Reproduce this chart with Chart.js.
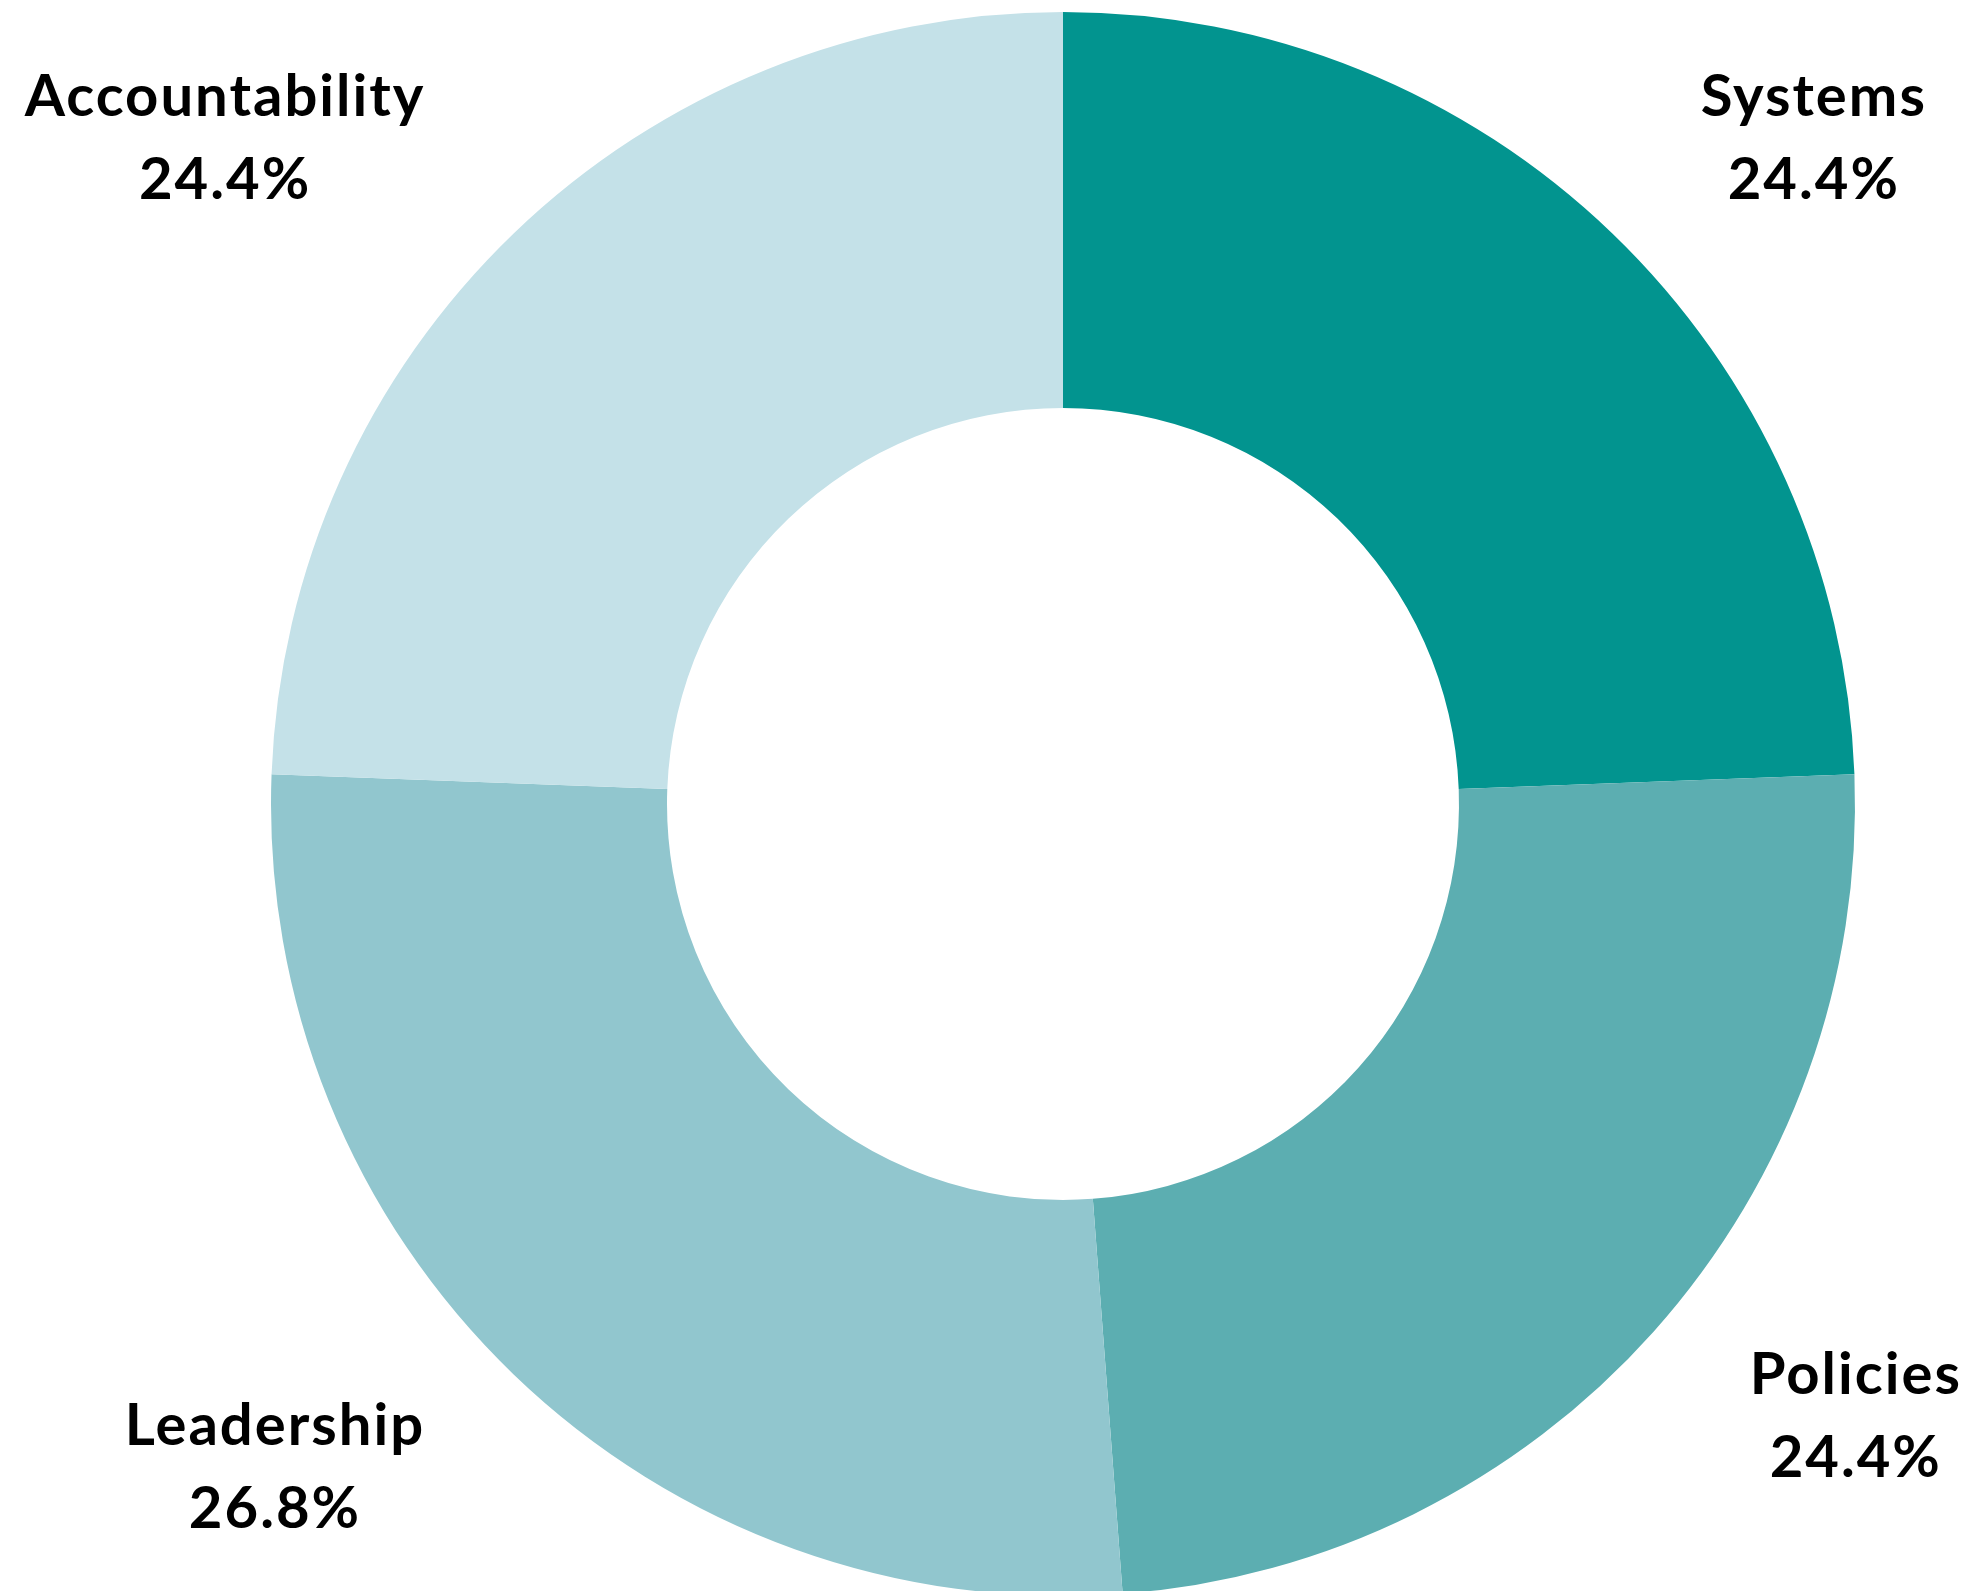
<!DOCTYPE html>
<html>
<head>
<meta charset="utf-8">
<script src="https://cdn.jsdelivr.net/npm/chart.js@4.4.0/dist/chart.umd.min.js"></script>
<style>
  html, body { margin: 0; padding: 0; background: #fff; overflow: hidden; }
  #wrap { width: 1964px; height: 1600px; }
</style>
</head>
<body>
<div id="wrap"><canvas id="donut" width="1964" height="1600"></canvas></div>
<script>
// Data
const categories = ['Systems', 'Policies', 'Leadership', 'Accountability'];
const shares = [24.4, 24.4, 26.8, 24.4];
const colours = ['#02948f', '#5caeb1', '#91c6ce', '#c4e1e8'];

// where each label sits, relative to the centre, in units of the outer radius
const labelSpots = [
  [0.948, -0.869],
  [1.001, 0.745],
  [-0.995, 0.809],
  [-1.058, -0.869]
];

const outsideLabels = {
  id: 'outsideLabels',
  afterDraw(chart) {
    const ctx = chart.ctx;
    const arcs = chart.getDatasetMeta(0).data;
    ctx.save();
    ctx.fillStyle = '#000';
    ctx.textAlign = 'center';
    ctx.textBaseline = 'alphabetic';
    ctx.font = 'bold 58px Lato, sans-serif';
    ctx.letterSpacing = '2px';
    arcs.forEach((arc, i) => {
      const r = arc.outerRadius;
      const x = arc.x + labelSpots[i][0] * r;
      const y = arc.y + labelSpots[i][1] * r;
      ctx.fillText(categories[i], x, y);
      ctx.fillText(shares[i].toFixed(1) + '%', x, y + 83);
    });
    ctx.restore();
  }
};

const chart = new Chart(document.getElementById('donut').getContext('2d'), {
  type: 'doughnut',
  data: {
    labels: categories,
    datasets: [{
      data: shares,
      backgroundColor: colours,
      borderWidth: 0
    }]
  },
  options: {
    responsive: false,
    animation: false,
    cutout: '50%',
    layout: { padding: { top: 12, bottom: 4, left: 271, right: 109 } },
    plugins: {
      legend: { display: false },
      tooltip: { enabled: false }
    }
  },
  plugins: [outsideLabels]
});
</script>
</body>
</html>
